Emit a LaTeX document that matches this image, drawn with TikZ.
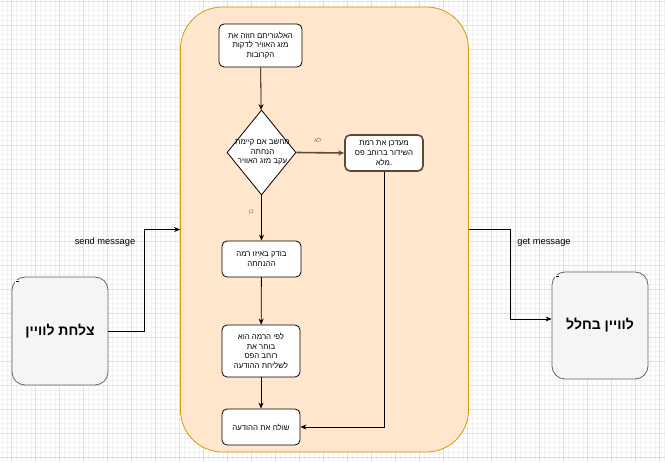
\documentclass[tikz,border=0pt]{standalone}
\usepackage{fontspec}
\setmainfont{Liberation Sans}
\newfontfamily\hebfont[Script=Hebrew]{Liberation Sans}
\TeXXeTstate=1
\usetikzlibrary{arrows.meta,shapes.geometric,calc}
\newcommand{\heb}[1]{{\hebfont\beginR #1\endR}}

\definecolor{contfill}{HTML}{FFE6CC}
\definecolor{contdraw}{HTML}{D79B00}
\definecolor{satfill}{HTML}{F5F5F5}
\definecolor{satdraw}{HTML}{666666}
\definecolor{brownline}{HTML}{5A4A3A}
\definecolor{gridminor}{HTML}{F2F2F2}
\definecolor{gridmajor}{HTML}{E0E0E0}
\definecolor{lblgray}{HTML}{7A6A5A}

\tikzset{
  minorgrid/.style={draw=gridminor, line width=0.5pt},
  majorgrid/.style={draw=gridmajor, line width=0.6pt},
  proc/.style={draw=black, line width=0.8pt, fill=white, rounded corners=5pt,
    align=center, inner sep=1pt, font=\fontsize{7.8}{9.8}\selectfont},
  satbox/.style={draw=satdraw, line width=0.8pt, fill=satfill, rounded corners=13pt,
    align=center, font=\fontsize{14}{16}\selectfont\bfseries},
  flow/.style={draw=black, line width=0.8pt, -{Stealth[length=6pt,width=5pt]}},
  edgelbl/.style={font=\fontsize{9.3}{11}\selectfont, text=black},
  branchlbl/.style={font=\fontsize{6}{7}\selectfont, text=lblgray},
}

\begin{document}
\begin{tikzpicture}[x=1pt,y=-1pt]
\useasboundingbox (0,0) rectangle (665,462);
\fill[white] (0,0) rectangle (665,462);

% background grid
\foreach \x in {2.1,6.9,...,665} \draw[minorgrid] (\x,0) -- (\x,462);
\foreach \y in {1,5.8,...,462} \draw[minorgrid] (0,\y) -- (665,\y);
\foreach \x in {11.7,35.7,...,665} \draw[majorgrid] (\x,0) -- (\x,462);
\foreach \y in {1,25,...,462} \draw[majorgrid] (0,\y) -- (665,\y);

% container
\node[draw=contdraw, fill=contfill, line width=0.8pt, rounded corners=42pt,
      minimum width=288pt, minimum height=445pt, inner sep=0pt] (cont) at (324.5,229.5) {};

% flow steps
\node[proc, minimum width=83pt, minimum height=43pt] (predict) at (260.5,45.5)
  {\heb{האלגוריתם חוזה את}\\\heb{מזג האוויר לדקות}\\\heb{הקרובות}};

\node[diamond, draw=black, fill=white, line width=0.8pt, minimum width=69pt,
      minimum height=85pt, inner sep=0pt] (dec) at (261.5,152.5) {};
\node[align=center, inner sep=0pt, font=\fontsize{7.8}{9.6}\selectfont] (dectext) at (262.5,152.5)
  {\heb{מחשב אם קיימת}\\\heb{הנחתה}\\\heb{עקב מזג האוויר}};

\node[proc, draw=brownline, line width=1.6pt, minimum width=78pt, minimum height=36pt] (upd) at (384,153)
  {\heb{מעדכן את רמת}\\\heb{השידור ברוחב פס}\\\heb{מלא}.};

\node[proc, minimum width=79pt, minimum height=36pt] (chk) at (261.5,259)
  {\heb{בודק באיזו רמה}\\\heb{ההנחתה}};

\node[proc, minimum width=78pt, minimum height=52pt] (sel) at (261,351)
  {\heb{לפי הרמה הוא}\\\heb{בוחר את}\\\heb{רוחב הפס}\\\heb{לשליחת ההודעה}};

\node[proc, minimum width=78pt, minimum height=36pt] (send) at (261,427)
  {\heb{שולח את ההודעה}};

% ground station and satellite
\node[satbox, minimum width=96pt, minimum height=108pt] (dish) at (60,331) {\heb{צלחת לוויין}};
\node[satbox, minimum width=96pt, minimum height=107pt] (space) at (600,325.5) {\heb{לוויין בחלל}};
% small fold marks in the upper left corners
\fill[white] (15,280) rectangle (19,283);
\draw[line width=0.7pt] (15.5,281.5) -- (18.5,281.5);
\fill[white] (555,275) rectangle (559,278);
\draw[line width=0.7pt] (555.5,276.5) -- (558.5,276.5);

% connectors inside the container
\draw[flow] (predict) -- (dec);
\draw[flow, draw=brownline, line width=1.6pt] (dec.east) -- (upd.west)
  node[branchlbl, pos=0.45, above=6pt] {\heb{לא}};
\draw[flow] (dec.south) -- (chk.north)
  node[branchlbl, pos=0.38, left=4pt] {\heb{כן}};
\draw[flow] (chk) -- (sel);
\draw[flow] (sel) -- (send);
\draw[flow] (upd.south) |- (send.east);

% message links
\coordinate (bendL) at (144,229.5);
\coordinate (bendR) at (510,229.5);
\draw[flow] (dish.east) -| (bendL) -- (cont.west);
\draw[flow] (cont.east) -- (bendR) |- ($(space.west)+(0,-6.5)$);
\node[edgelbl] (sendlbl) at (105,242) {send message};
\node[edgelbl] (getlbl) at (544,242) {get message};
\end{tikzpicture}
\end{document}
